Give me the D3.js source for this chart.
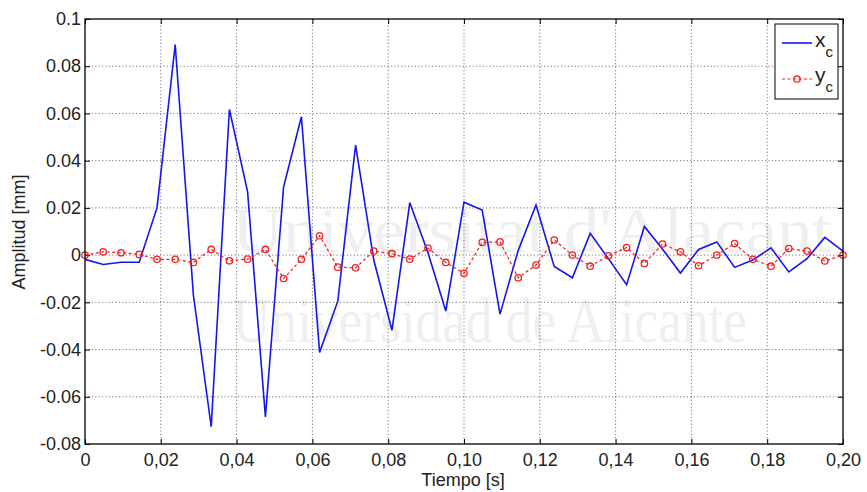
<!DOCTYPE html>
<html>
<head>
<meta charset="utf-8">
<script src="https://cdn.jsdelivr.net/npm/d3@7"></script>
<style>
  html, body { margin: 0; padding: 0; background: #fff; }
  svg { display: block; }
</style>
</head>
<body>
<svg id="chart" width="867" height="492"></svg>
<script>
// ---- data ----
const tiempo = [0, 0.0048, 0.0095, 0.0143, 0.0190, 0.0238, 0.0286, 0.0333, 0.0381, 0.0429,
  0.0476, 0.0524, 0.0571, 0.0619, 0.0667, 0.0714, 0.0762, 0.0810, 0.0857, 0.0905,
  0.0952, 0.1000, 0.1048, 0.1095, 0.1143, 0.1190, 0.1238, 0.1286, 0.1333, 0.1381,
  0.1429, 0.1476, 0.1524, 0.1571, 0.1619, 0.1667, 0.1714, 0.1762, 0.1810, 0.1857,
  0.1905, 0.1952, 0.2000];
const xc = [-0.0018, -0.0040, -0.0030, -0.0030, 0.0200, 0.0892, -0.0170, -0.0727, 0.0617, 0.0268,
  -0.0685, 0.0289, 0.0586, -0.0412, -0.0195, 0.0466, -0.0021, -0.0318, 0.0222, 0.0010,
  -0.0237, 0.0224, 0.0191, -0.0250, 0.0020, 0.0212, -0.0048, -0.0096, 0.0092, -0.0015,
  -0.0125, 0.0121, 0.0025, -0.0076, 0.0024, 0.0056, -0.0052, -0.0021, 0.0031, -0.0071,
  -0.0015, 0.0075, 0.0017];
const yc = [0.0000, 0.0014, 0.0010, 0.0003, -0.0018, -0.0018, -0.0031, 0.0024, -0.0024, -0.0017,
  0.0024, -0.0099, -0.0018, 0.0082, -0.0051, -0.0054, 0.0017, 0.0006, -0.0017, 0.0030,
  -0.0031, -0.0077, 0.0054, 0.0056, -0.0096, -0.0042, 0.0064, 0.0000, -0.0047, -0.0003,
  0.0032, -0.0035, 0.0047, 0.0014, -0.0045, 0.0000, 0.0049, -0.0018, -0.0047, 0.0028,
  0.0017, -0.0025, 0.0000];
const xTicks = [0, 0.02, 0.04, 0.06, 0.08, 0.10, 0.12, 0.14, 0.16, 0.18, 0.20];
const xTickLabels = ["0", "0,02", "0,04", "0,06", "0,08", "0,10", "0,12", "0,14", "0,16", "0,18", "0,20"];
const yTicks = [-0.08, -0.06, -0.04, -0.02, 0, 0.02, 0.04, 0.06, 0.08, 0.1];
const yTickLabels = ["-0.08", "-0.06", "-0.04", "-0.02", "0", "0.02", "0.04", "0.06", "0.08", "0.1"];
const seriesNames = ["x", "y"];

// ---- layout ----
const W = 867, H = 492;
const m = { left: 85, top: 19, right: 24, bottom: 48 };
const pw = W - m.left - m.right, ph = H - m.top - m.bottom;
const SANS = "'Liberation Sans', Arial, Helvetica, sans-serif";
const SERIF = "'Liberation Serif', 'DejaVu Serif', serif";
const FS = 18;

const svg = d3.select("#chart");
svg.append("rect").attr("width", W).attr("height", H).attr("fill", "#fff");

const x = d3.scaleLinear().domain([0, 0.2]).range([m.left, m.left + pw]);
const y = d3.scaleLinear().domain([-0.08, 0.1]).range([m.top + ph, m.top]);

// faint watermark
const wm = svg.append("g").attr("fill", "#efefef");
wm.append("text").attr("x", 232).attr("y", 252).attr("font-size", 64).style("font-family", SERIF)
  .attr("textLength", 600).attr("lengthAdjust", "spacingAndGlyphs").text("Universitat d'Alacant");
wm.append("text").attr("x", 232).attr("y", 342).attr("font-size", 64).style("font-family", SERIF)
  .attr("textLength", 515).attr("lengthAdjust", "spacingAndGlyphs").text("Universidad de Alicante");

// grid
const grid = svg.append("g").attr("stroke", "#555").attr("stroke-width", 0.8).attr("stroke-dasharray", "1.2,2.2");
grid.selectAll(".gx").data(xTicks.slice(1, -1)).enter().append("line")
  .attr("x1", d => x(d)).attr("x2", d => x(d)).attr("y1", m.top).attr("y2", m.top + ph);
grid.selectAll(".gy").data(yTicks.slice(1, -1)).enter().append("line")
  .attr("y1", d => y(d)).attr("y2", d => y(d)).attr("x1", m.left).attr("x2", m.left + pw);

// axes (ticks inward on all four sides)
const fmtX = (d) => xTickLabels[xTicks.indexOf(d)];
const fmtY = (d) => yTickLabels[yTicks.indexOf(d)];
const axB = svg.append("g").attr("transform", `translate(0,${m.top + ph})`)
  .call(d3.axisBottom(x).tickValues(xTicks).tickFormat(fmtX).tickSizeInner(-5).tickSizeOuter(0).tickPadding(9));
const axT = svg.append("g").attr("transform", `translate(0,${m.top})`)
  .call(d3.axisTop(x).tickValues(xTicks).tickFormat("").tickSizeInner(-5).tickSizeOuter(0));
const axL = svg.append("g").attr("transform", `translate(${m.left},0)`)
  .call(d3.axisLeft(y).tickValues(yTicks).tickFormat(fmtY).tickSizeInner(-5).tickSizeOuter(0).tickPadding(4));
const axR = svg.append("g").attr("transform", `translate(${m.left + pw},0)`)
  .call(d3.axisRight(y).tickValues(yTicks).tickFormat("").tickSizeInner(-5).tickSizeOuter(0));
[axB, axT, axL, axR].forEach(a => {
  a.select(".domain").remove();
  a.selectAll(".tick line").attr("stroke", "#000").attr("stroke-width", 1);
  a.selectAll("text").attr("fill", "#222").attr("font-size", FS).style("font-family", SANS);
});

// series
const pts = tiempo.map((t, i) => ({ t, a: xc[i], b: yc[i] }));
const lineA = d3.line().x(d => x(d.t)).y(d => y(d.a));
const lineB = d3.line().x(d => x(d.t)).y(d => y(d.b));

svg.append("path").datum(pts).attr("d", lineA).attr("fill", "none")
  .attr("stroke", "#1515ee").attr("stroke-width", 1.6).attr("stroke-linejoin", "miter");

svg.append("path").datum(pts).attr("d", lineB).attr("fill", "none")
  .attr("stroke", "#f02020").attr("stroke-width", 1.2).attr("stroke-dasharray", "3,2.5");
svg.append("g").selectAll("circle").data(pts).enter().append("circle")
  .attr("cx", d => x(d.t)).attr("cy", d => y(d.b)).attr("r", 3.2)
  .attr("fill", "none").attr("stroke", "#f02020").attr("stroke-width", 1.3);

// frame
svg.append("rect").attr("x", m.left).attr("y", m.top).attr("width", pw).attr("height", ph)
  .attr("fill", "none").attr("stroke", "#000").attr("stroke-width", 1.3);

// axis titles
svg.append("text").attr("x", 463).attr("y", 486).attr("text-anchor", "middle").style("font-family", SANS)
  .attr("font-size", FS).attr("fill", "#222").text("Tiempo [s]");
svg.append("text").attr("transform", "translate(25,232) rotate(-90)").attr("text-anchor", "middle")
  .style("font-family", SANS).attr("font-size", FS).attr("fill", "#222").text("Amplitud [mm]");

// legend
const lg = svg.append("g");
lg.append("rect").attr("x", 775).attr("y", 24).attr("width", 63).attr("height", 75)
  .attr("fill", "#fff").attr("stroke", "#000").attr("stroke-width", 1);
lg.append("line").attr("x1", 782).attr("x2", 812).attr("y1", 43).attr("y2", 43)
  .attr("stroke", "#1515ee").attr("stroke-width", 1.6);
lg.append("line").attr("x1", 782).attr("x2", 812).attr("y1", 79).attr("y2", 79)
  .attr("stroke", "#f02020").attr("stroke-width", 1.2).attr("stroke-dasharray", "3,2.5");
lg.append("circle").attr("cx", 797).attr("cy", 79).attr("r", 3.2)
  .attr("fill", "none").attr("stroke", "#f02020").attr("stroke-width", 1.3);
const lt1 = lg.append("text").attr("x", 815).attr("y", 47).attr("font-size", 21).attr("fill", "#222").style("font-family", SANS);
lt1.append("tspan").text(seriesNames[0]);
lt1.append("tspan").attr("font-size", 15).attr("dy", 10).text("c");
const lt2 = lg.append("text").attr("x", 815).attr("y", 82).attr("font-size", 21).attr("fill", "#222").style("font-family", SANS);
lt2.append("tspan").text(seriesNames[1]);
lt2.append("tspan").attr("font-size", 15).attr("dy", 10).text("c");
</script>
</body>
</html>
